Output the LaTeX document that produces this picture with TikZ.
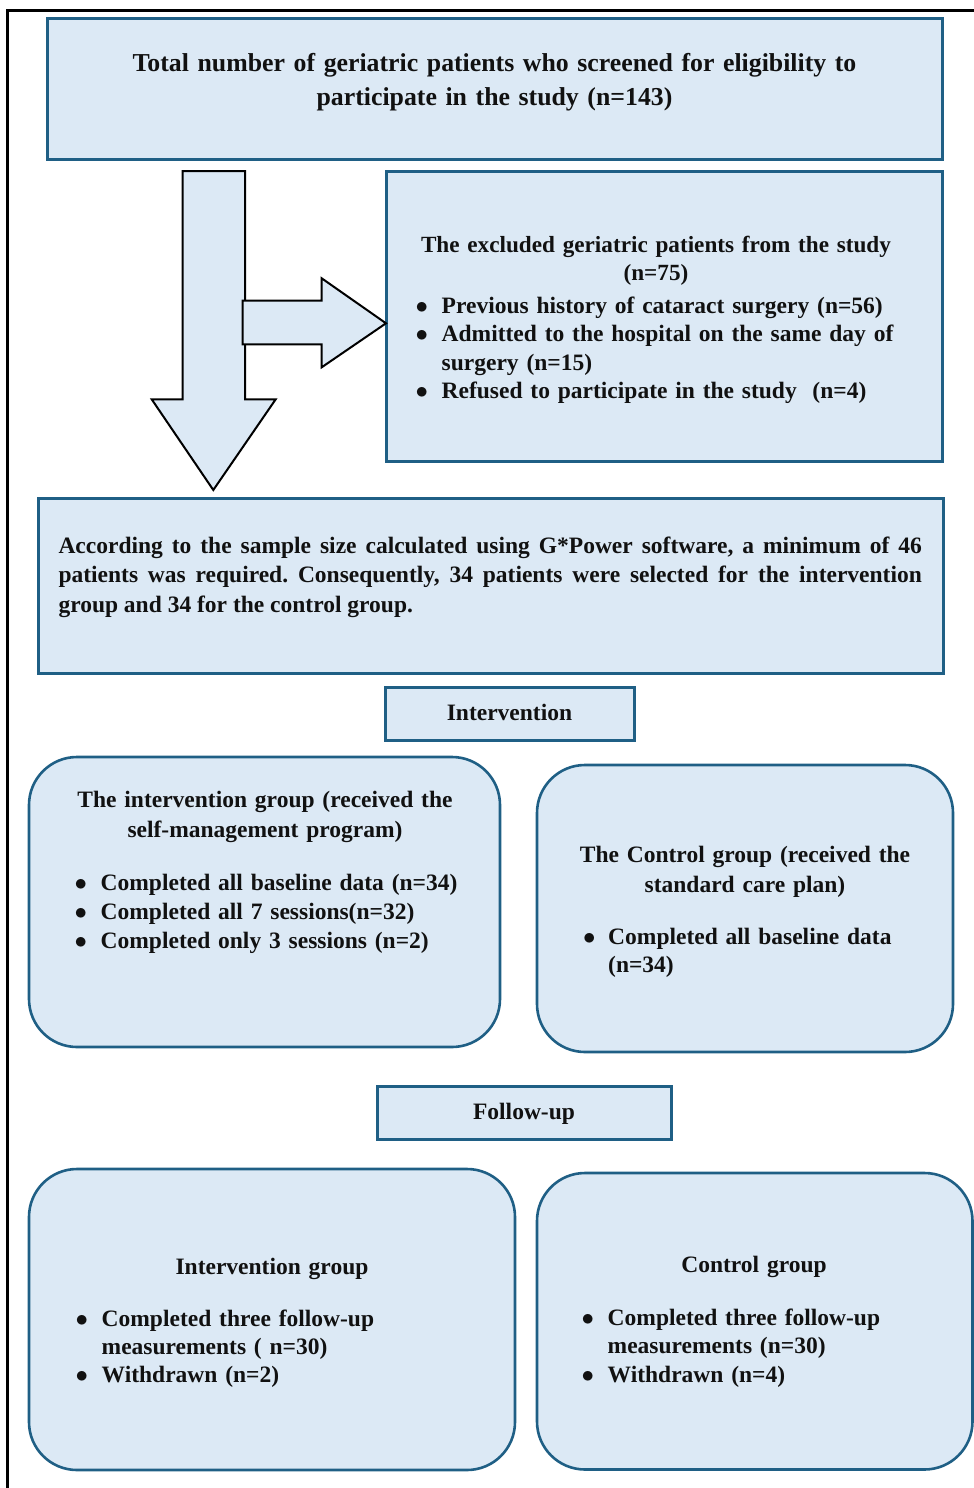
\documentclass[tikz,border=0pt]{standalone}
\usepackage{fontspec}
\setmainfont{Liberation Serif}
\usepackage{tikz}
\usetikzlibrary{positioning}
\definecolor{Ink}{HTML}{111111}
\definecolor{BoxFill}{HTML}{DCE9F5}
\definecolor{BoxEdge}{HTML}{1F5F85}
\tikzset{
  frameLine/.style={draw=black,line width=3pt},
  stageBox/.style={rectangle,draw=BoxEdge,line width=3pt,fill=BoxFill,inner sep=0pt},
  groupBox/.style={rectangle,rounded corners=48pt,draw=BoxEdge,line width=2.6pt,fill=BoxFill,inner sep=0pt},
  blockArrow/.style={draw=black,line width=2pt,fill=BoxFill,line join=miter},
  headText/.style={text=Ink,font=\bfseries\fontsize{23.5}{30}\selectfont,align=center,
    inner sep=0pt,anchor=base,text width=560pt},
  listText/.style={text=Ink,font=\bfseries\fontsize{23.5}{28.5}\selectfont,align=left,
    inner sep=0pt,anchor=base west,text width=520pt}
}
\newcommand{\bul}{\makebox[26pt][l]{$\bullet$}}
\newcommand{\hang}{\hspace*{26pt}}
\frenchspacing

\begin{document}
\begin{tikzpicture}[x=1pt,y=-1pt]
  \useasboundingbox (0,0) rectangle (974,1488);
  \draw[frameLine] (7.5,10.5) rectangle (1010,1510);
  % screening and exclusion
  \node[stageBox,minimum width=895.5,minimum height=140.5] (total) at (494.75,89.25) {};
  \node[headText,font=\bfseries\fontsize{25.8}{34}\selectfont,text width=880pt] (totaltxt) at (494.5,71)
    {Total number of geriatric patients who screened for eligibility to\\participate in the study (n=143)};
  \node[stageBox,minimum width=556.5,minimum height=290] (excl) at (664.25,316.7) {};
  \node[headText,font=\bfseries\fontsize{23.2}{28}\selectfont] (exclhead) at (656,252)
    {The excluded geriatric patients from the study\\(n=75)};
  \node[listText] (excllist) at (415.5,313)
    {\bul Previous history of cataract surgery (n=56)\\
     \bul Admitted to the hospital on the same day of\\
     \hang surgery (n=15)\\
     \bul Refused to participate in the study\ \ (n=4)};
  % block arrows
  \draw[blockArrow] (182.7,171) -- (245,171) -- (245,399.3) -- (275.7,399.3) -- (213.3,490)
    -- (151.7,399.3) -- (182.7,399.3) -- cycle;
  \draw[blockArrow] (242.7,300.7) -- (321.7,300.7) -- (321.7,278.3) -- (386,323.3)
    -- (321.7,367.3) -- (321.7,344.3) -- (242.7,344.3) -- cycle;
  % sample size
  \node[stageBox,minimum width=905,minimum height=174.7] (sample) at (490.5,585.65) {};
  \node[text=Ink,font=\bfseries\fontsize{23.5}{29.5}\selectfont,align=justify,inner sep=0pt,
    anchor=base west,text width=863.4pt] (sampletxt) at (58.3,553)
    {According to the sample size calculated using G*Power software, a minimum of 46\linebreak
     patients was required. Consequently, 34 patients were selected for the intervention\linebreak
     group and 34 for the control group.};
  % intervention phase
  \node[stageBox,minimum width=249,minimum height=53.4] (interv) at (509.5,714) {};
  \node[headText,text width=240pt] (intervtxt) at (509.5,720.5) {Intervention};
  \node[groupBox,minimum width=471,minimum height=290] (ig) at (264.5,902) {};
  \node[headText] (ighead) at (265,807)
    {The intervention group (received the\\self-management program)};
  \node[listText,font=\bfseries\fontsize{23.5}{29}\selectfont] (iglist) at (74.5,890)
    {\bul Completed all baseline data (n=34)\\
     \bul Completed all 7 sessions(n=32)\\
     \bul Completed only 3 sessions (n=2)};
  \node[groupBox,minimum width=416,minimum height=287] (cg) at (745,908.5) {};
  \node[headText] (cghead) at (745,862)
    {The Control group (received the\\standard care plan)};
  \node[listText,font=\bfseries\fontsize{23.5}{28.5}\selectfont] (cglist) at (583,944)
    {\makebox[25pt][l]{$\bullet$}Completed all baseline data\\
     \hspace*{25pt}(n=34)};
  % follow-up phase
  \node[stageBox,minimum width=294,minimum height=53] (follow) at (524,1112.5) {};
  \node[headText,text width=280pt] (followtxt) at (524,1119) {Follow-up};
  \node[groupBox,minimum width=486,minimum height=301] (ig2) at (272,1319.5) {};
  \node[headText] (ig2head) at (272,1274) {Intervention group};
  \node[listText,font=\bfseries\fontsize{23.5}{28}\selectfont] (ig2list) at (75.5,1326.5)
    {\bul Completed three follow-up\\
     \hang measurements ( n=30)\\
     \bul Withdrawn (n=2)};
  \node[groupBox,minimum width=435.5,minimum height=296.5] (cg2) at (754.75,1321.25) {};
  \node[headText] (cg2head) at (754,1272) {Control group};
  \node[listText,font=\bfseries\fontsize{23.5}{28.5}\selectfont] (cg2list) at (581.5,1325)
    {\bul Completed three follow-up\\
     \hang measurements (n=30)\\
     \bul Withdrawn (n=4)};
\end{tikzpicture}
\end{document}
